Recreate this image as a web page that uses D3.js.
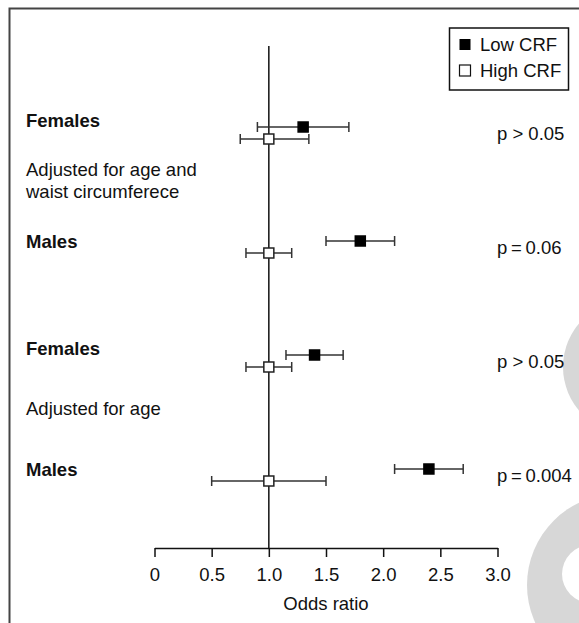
<!DOCTYPE html>
<html>
<head>
<meta charset="utf-8">
<script src="https://cdn.jsdelivr.net/npm/d3@7"></script>
<style>
  html, body { margin: 0; padding: 0; background: #fff; }
  svg { display: block; }
  text { font-family: "Liberation Sans", Arial, Helvetica, sans-serif; fill: #111; }
</style>
</head>
<body>
<script>
// Forest plot: odds ratios by cardiorespiratory fitness (CRF) group
const groups = ["Females", "Males", "Females", "Males"];
const adjustments = [["Adjusted for age and", "waist circumferece"], ["Adjusted for age"]];

const lowOR = [1.3, 1.8, 1.4, 2.4];
const lowLo = [0.9, 1.5, 1.15, 2.1];
const lowHi = [1.7, 2.1, 1.65, 2.7];

const highOR = [1.0, 1.0, 1.0, 1.0];
const highLo = [0.75, 0.8, 0.8, 0.5];
const highHi = [1.35, 1.2, 1.2, 1.5];

const pLabels = ["p > 0.05", "p\u2009=\u20090.06", "p > 0.05", "p\u2009=\u20090.004"];

const xTicks = [0, 0.5, 1.0, 1.5, 2.0, 2.5, 3.0];
const legendLabels = ["Low CRF", "High CRF"];

const W = 579, H = 623;
const FS = 18.5;

const svg = d3.select("body").append("svg")
  .attr("width", W).attr("height", H);

// decorative grey shapes at the right edge
svg.append("circle").attr("cx", 630).attr("cy", 367).attr("r", 67).attr("fill", "#d7d7d7");
svg.append("circle").attr("cx", 618).attr("cy", 585).attr("r", 91).attr("fill", "#d7d7d7");
svg.append("circle").attr("cx", 591).attr("cy", 574).attr("r", 29).attr("fill", "#fff");

// outer frame (continues past the right and bottom edges)
svg.append("rect")
  .attr("x", 9.5).attr("y", 8.5).attr("width", 700).attr("height", 700)
  .attr("fill", "none").attr("stroke", "#444").attr("stroke-width", 2);

const x = d3.scaleLinear().domain([0, 3]).range([154.5, 497.5]);
const y = d3.scaleLinear().domain([0, 3]).range([127, 469]);
const openOffset = 12;
const axisY = 548;

// x axis
const axis = d3.axisBottom(x)
  .tickValues(xTicks)
  .tickFormat(d => d === 0 ? "0" : d3.format(".1f")(d))
  .tickSizeInner(9).tickSizeOuter(0).tickPadding(11);
const gAxis = svg.append("g").attr("transform", `translate(0,${axisY})`).call(axis);
gAxis.select(".domain").attr("stroke", "#111").attr("stroke-width", 1.5);
gAxis.selectAll(".tick line").attr("stroke", "#111").attr("stroke-width", 1.5);
gAxis.selectAll(".tick text").attr("font-size", FS).attr("fill", "#111")
  .style("font-family", "'Liberation Sans', Arial, Helvetica, sans-serif");

svg.append("text")
  .attr("x", x(1.5)).attr("y", 609.5)
  .attr("text-anchor", "middle").attr("font-size", FS)
  .text("Odds ratio");

// reference line at OR = 1
svg.append("line")
  .attr("x1", x(1)).attr("x2", x(1))
  .attr("y1", 46).attr("y2", axisY)
  .attr("stroke", "#111").attr("stroke-width", 1.5);

// group labels
svg.selectAll("text.group").data(groups).join("text")
  .attr("class", "group")
  .attr("x", 26)
  .attr("y", (d, i) => y(i) + (d === "Males" ? 6.5 : 0))
  .attr("font-size", FS).attr("font-weight", "bold")
  .text(d => d);

// adjustment labels, placed between the two rows of each block
adjustments.forEach((lines, k) => {
  const mid = (y(2 * k) + y(2 * k + 1)) / 2;
  const lh = 22;
  const t = svg.append("text").attr("font-size", FS);
  lines.forEach((ln, j) => {
    t.append("tspan")
      .attr("x", 26)
      .attr("y", mid + 6.5 - (lines.length - 1) * lh / 2 + j * lh - 4)
      .text(ln);
  });
});

// error bars with square point markers
function drawSeries(or, lo, hi, dy, filled, cls) {
  const g = svg.append("g").attr("class", cls);
  const rows = or.map((v, i) => ({v, lo: lo[i], hi: hi[i], i}));
  const cap = 5;
  const bars = g.selectAll("g").data(rows).join("g");
  bars.append("line")
    .attr("x1", d => x(d.lo)).attr("x2", d => x(d.hi))
    .attr("y1", d => y(d.i) + dy).attr("y2", d => y(d.i) + dy)
    .attr("stroke", "#333").attr("stroke-width", 1.5);
  ["lo", "hi"].forEach(k => {
    bars.append("line")
      .attr("x1", d => x(d[k])).attr("x2", d => x(d[k]))
      .attr("y1", d => y(d.i) + dy - cap).attr("y2", d => y(d.i) + dy + cap)
      .attr("stroke", "#333").attr("stroke-width", 1.5);
  });
  const s = 10;
  bars.append("rect")
    .attr("x", d => x(d.v) - s / 2).attr("y", d => y(d.i) + dy - s / 2)
    .attr("width", s).attr("height", s)
    .attr("fill", filled ? "#000" : "#fff")
    .attr("stroke", filled ? "#000" : "#222").attr("stroke-width", 1.5);
}
drawSeries(highOR, highLo, highHi, openOffset, false, "high");
drawSeries(lowOR, lowLo, lowHi, 0, true, "low");

// p-values
svg.selectAll("text.pval").data(pLabels).join("text")
  .attr("class", "pval")
  .attr("x", 497)
  .attr("y", (d, i) => y(i) + openOffset / 2 + 6.5)
  .attr("font-size", FS)
  .text(d => d);

// legend
const lg = svg.append("g");
lg.append("rect").attr("x", 449.5).attr("y", 28).attr("width", 119).attr("height", 62)
  .attr("fill", "#fff").attr("stroke", "#111").attr("stroke-width", 1.5);
legendLabels.forEach((lab, i) => {
  const cy = 44.5 + i * 26;
  lg.append("rect").attr("x", 459.5).attr("y", cy - 5.5).attr("width", 11).attr("height", 11)
    .attr("fill", i === 0 ? "#000" : "#fff").attr("stroke", "#111").attr("stroke-width", i === 0 ? 0 : 1.2);
  lg.append("text").attr("x", 480).attr("y", cy + 6.5).attr("font-size", FS).text(lab);
});
</script>
</body>
</html>
